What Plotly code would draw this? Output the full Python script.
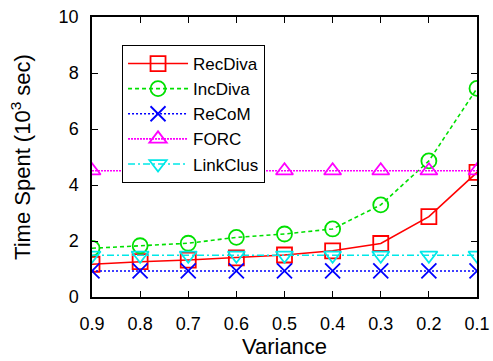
import plotly.graph_objects as go

variance = [0.9, 0.8, 0.7, 0.6, 0.5, 0.4, 0.3, 0.2, 0.1]
recdiva = [1.17, 1.26, 1.32, 1.40, 1.50, 1.65, 1.91, 2.87, 4.45]
incdiva = [1.74, 1.83, 1.92, 2.13, 2.25, 2.43, 3.29, 4.86, 7.45]
recom = [0.93] * 9
forc = [4.51] * 9
linkclus = [1.49] * 9

series = [
    ("RecDiva", recdiva, "#ff0000", "solid", "square-open"),
    ("IncDiva", incdiva, "#00e000", "4px,3px", "circle-open"),
    ("ReCoM", recom, "#0000ff", "2px,2px", "x-thin-open"),
    ("FORC", forc, "#ff00ff", "2px,1px", "triangle-up-open"),
    ("LinkClus", linkclus, "#00e8e8", "7px,3px,2px,3px", "triangle-down-open"),
]

fig = go.Figure()
for name, ys, color, dash, sym in series:
    fig.add_trace(go.Scatter(
        x=variance, y=ys, name=name, mode="lines+markers",
        line=dict(color=color, width=1.6, dash=dash),
        marker=dict(symbol=sym, size=15, color=color, line=dict(width=1.8, color=color)),
    ))

axis_common = dict(
    showgrid=False, zeroline=False, showline=True, linecolor="black", linewidth=1.5,
    mirror="ticks", ticks="inside", ticklen=6, tickcolor="black", tickwidth=1,
    tickfont=dict(size=18, color="black"),
)

fig.update_layout(
    width=493, height=361,
    margin=dict(l=92, r=16, t=17, b=64, autoexpand=False),
    paper_bgcolor="white", plot_bgcolor="white",
    font=dict(family="Liberation Sans, Arial, sans-serif", size=18, color="black"),
    showlegend=True,
    legend=dict(
        x=0.078, y=0.9, xanchor="left", yanchor="top",
        bordercolor="black", borderwidth=1, bgcolor="white",
        font=dict(size=17), tracegroupgap=0, itemwidth=60,
    ),
    xaxis=dict(
        range=[0.9, 0.1], tickvals=variance, ticktext=[str(v) for v in variance],
        ticklabelstandoff=10,
        title=dict(text="Variance", standoff=4), **axis_common,
    ),
    yaxis=dict(
        range=[0, 10], tickvals=[0, 2, 4, 6, 8, 10],
        ticklabelstandoff=8,
        title=dict(text="Time Spent (10<sup>3</sup> sec)", standoff=22), **axis_common,
    ),
)

fig.write_html("out.html")
